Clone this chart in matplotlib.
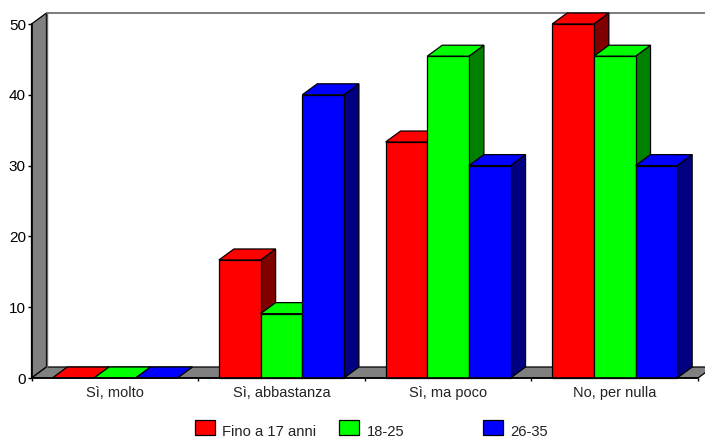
import numpy as np
import matplotlib
matplotlib.use('Agg')
import matplotlib.pyplot as plt
from matplotlib.patches import Polygon, Rectangle

plt.rcParams['font.family'] = ['Liberation Sans', 'DejaVu Sans']

categories = ['Sì, molto', 'Sì, abbastanza', 'Sì, ma poco', 'No, per nulla']
series_names = ['Fino a 17 anni', '18-25', '26-35']
fino_17 = [0, 16.67, 33.33, 50]
anni_18_25 = [0, 9.09, 45.45, 45.45]
anni_26_35 = [0, 40, 30, 30]

W, H = 705, 440
X0, X1, Y0, Y1 = 31.5, 698, 378, 24
DX_PX, DY_PX = 15, 11

fig = plt.figure(figsize=(W / 100, H / 100), dpi=100)
ax = fig.add_axes([X0 / W, 1 - Y0 / H, (X1 - X0) / W, (Y0 - Y1) / H])
ax.set_xlim(0, 4)
ax.set_ylim(0, 50)

# depth of the fake 3d in data units
dx = DX_PX / (X1 - X0) * 4
dy = DY_PX / (Y0 - Y1) * 50


def poly(pts, color, z, edge='black', lw=0.9):
    ax.add_patch(Polygon(pts, closed=True, facecolor=color, edgecolor=edge,
                         linewidth=lw, clip_on=False, zorder=z, joinstyle='miter'))


# walls
poly([(0, 0), (dx, dy), (dx, 50 + dy), (0, 50)], '#808080', 1)
poly([(0, 0), (dx, dy), (4 + dx, dy), (4, 0)], '#808080', 1)
ax.plot([dx, 4 + dx], [50 + dy, 50 + dy], color='#666666', lw=1.2, clip_on=False, zorder=1)
ax.plot([dx, dx], [dy, 50 + dy], color='#666666', lw=1.0, clip_on=False, zorder=1.5)

colors = ['#ff0000', '#00ff00', '#0000ff']
dark = ['#800000', '#008000', '#000080']
bar_w = 0.25
series = [fino_17, anni_18_25, anni_26_35]

z = 2
for c in range(len(categories)):
    for s in range(3):
        v = series[s][c]
        x = c + 0.125 + s * bar_w
        # drawn back to front so that the next bar covers this side face
        poly([(x + bar_w, 0), (x + bar_w + dx, dy), (x + bar_w + dx, v + dy), (x + bar_w, v)], dark[s], z)
        poly([(x, v), (x + dx, v + dy), (x + bar_w + dx, v + dy), (x + bar_w, v)], colors[s], z)
        if v > 0:
            poly([(x, 0), (x + bar_w, 0), (x + bar_w, v), (x, v)], colors[s], z + 0.5)
        z += 1

for side in ['top', 'right']:
    ax.spines[side].set_visible(False)
for side in ['left', 'bottom']:
    ax.spines[side].set_linewidth(1.2)
    ax.spines[side].set_zorder(100)

ax.set_xticks(range(5))
ax.set_xticklabels([])
ax.set_xticks(np.arange(4) + 0.5, categories, minor=True)
ax.tick_params(axis='x', which='major', length=2, width=1, direction='out', zorder=100)
ax.tick_params(axis='x', which='minor', length=0, pad=6, labelsize=10.5, labelcolor='#222222')
ax.set_yticks(range(0, 51, 10))
ax.tick_params(axis='y', length=3, width=1, pad=1, labelsize=11)

# legend laid out by hand, the columns are evenly spaced
legend_x = [195, 339, 483]
for x, name, col in zip(legend_x, series_names, colors):
    fig.add_artist(Rectangle((x / W, 1 - 434.5 / H), 20 / W, 14.5 / H, transform=fig.transFigure,
                             facecolor=col, edgecolor='black', linewidth=0.9))
    fig.text((x + 27.5) / W, 1 - 431.5 / H, name, fontsize=10.6, va='center', ha='left', color='#222222')

fig.savefig('out.png', dpi=100)
